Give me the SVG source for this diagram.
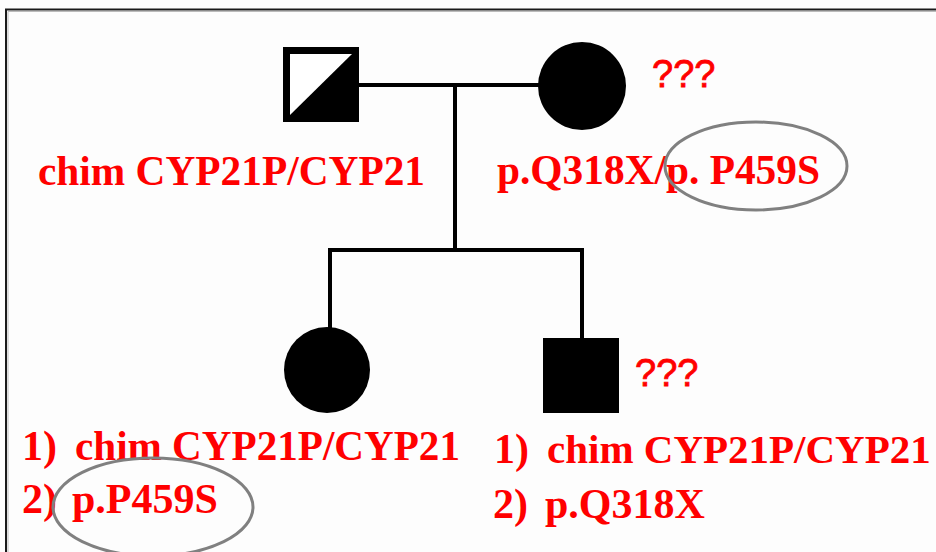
<svg xmlns="http://www.w3.org/2000/svg" width="936" height="552" viewBox="0 0 936 552">
  <style>
    .lbl { font-family: "Liberation Serif", "Times New Roman", serif; font-weight: bold; font-size: 42px; fill: #ff0000; }
    .q { font-family: "Liberation Sans", Arial, sans-serif; font-size: 38px; fill: #ff0000; stroke: #ff0000; stroke-width: 0.8; }
    .line { stroke: #000; stroke-width: 4; fill: none; stroke-linecap: square; }
    .mark { fill: none; stroke: #808080; stroke-width: 3; }
  </style>
  <rect width="936" height="552" fill="#fdfdfd"/>
  <!-- frame -->
  <path d="M6 552 V9.5 H936" fill="none" stroke="#1a1a1a" stroke-width="2"/>
  <path d="M8 552 V11.5 H936" fill="none" stroke="#bbbbbb" stroke-width="1"/>

  <g id="connectors">
    <line class="line" x1="359" y1="85" x2="540" y2="85"/>
    <line class="line" x1="455" y1="85" x2="455" y2="250"/>
    <line class="line" x1="330" y1="250" x2="582" y2="250"/>
    <line class="line" x1="330" y1="250" x2="330" y2="328"/>
    <line class="line" x1="582" y1="250" x2="582" y2="338"/>
  </g>

  <g id="father">
    <rect x="283" y="47" width="76" height="75" fill="#000"/>
    <polygon points="290,54 352,54 290,115" fill="#fff"/>
    <text class="lbl" x="38" y="185" textLength="387" lengthAdjust="spacingAndGlyphs">chim CYP21P/CYP21</text>
  </g>

  <g id="mother">
    <circle cx="582" cy="86" r="44" fill="#000"/>
    <text class="q" x="652" y="87">???</text>
    <text class="lbl" x="497" y="184" textLength="323" lengthAdjust="spacingAndGlyphs">p.Q318X/p. P459S</text>
    <ellipse class="mark" cx="756" cy="166" rx="91" ry="44"/>
  </g>

  <g id="daughter">
    <circle cx="327" cy="370" r="43" fill="#000"/>
    <text class="lbl" y="460"><tspan x="22">1)</tspan><tspan x="75" textLength="385" lengthAdjust="spacingAndGlyphs">chim CYP21P/CYP21</tspan></text>
    <text class="lbl" y="513"><tspan x="22">2)</tspan><tspan x="72">p.P459S</tspan></text>
    <ellipse class="mark" cx="153" cy="507" rx="100" ry="49"/>
  </g>

  <g id="son">
    <rect x="543" y="338" width="76" height="75" fill="#000"/>
    <text class="q" x="635" y="386">???</text>
    <text class="lbl" x="494" y="463">1)</text>
    <text class="lbl" x="547" y="463" style="font-size:41px">chim CYP21P/CYP21</text>
    <text class="lbl" y="518"><tspan x="493">2)</tspan><tspan x="545">p.Q318X</tspan></text>
  </g>
</svg>
